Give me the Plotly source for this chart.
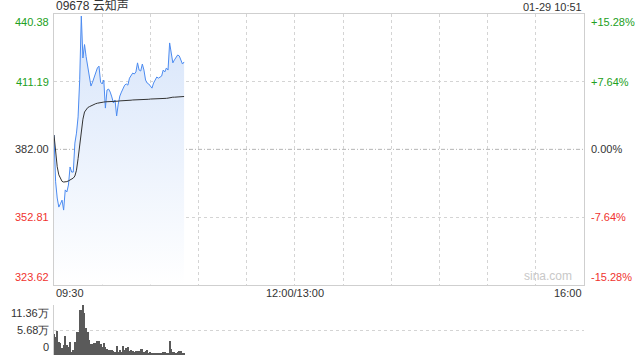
import plotly.graph_objects as go
from plotly.subplots import make_subplots

# ---------------- data ----------------
title_text = "09678 云知声"
stamp_text = "01-29 10:51"
prev_close = 382.00
price_ticks = [440.38, 411.19, 382.00, 352.81, 323.62]
pct_ticks = ["+15.28%", "+7.64%", "0.00%", "-7.64%", "-15.28%"]
x_tick_pos = [0, 150, 330]
x_tick_labels = ["09:30", "12:00/13:00", "16:00"]
vol_ticks = [11.36, 5.68, 0]
vol_tick_labels = ["11.36万", "5.68万", "0"]

minutes = list(range(82))  # minutes since 09:30
price = [388.2, 368.0, 361.0, 357.1, 358.5, 360.1, 355.8, 364.5, 363.6, 366.6,
         374.4, 372.2, 372.2, 384.7, 389.0, 396.0, 412.0, 439.5, 421.4, 427.2,
         422.0, 417.9, 414.0, 409.3, 411.0, 413.2, 415.4, 417.1, 417.9, 411.0,
         410.2, 411.9, 399.8, 407.6, 408.0, 406.7, 404.6, 402.0, 403.3, 396.4,
         401.5, 405.0, 406.7, 408.4, 409.7, 410.2, 409.7, 412.7, 414.0, 414.9,
         414.5, 415.4, 419.3, 416.2, 415.8, 418.8, 416.2, 411.9, 410.6, 410.2,
         409.3, 408.4, 410.6, 411.9, 413.2, 412.7, 413.2, 413.6, 416.2, 415.4,
         417.1, 416.2, 427.9, 423.6, 419.3, 420.6, 421.9, 422.7, 422.3, 420.6,
         418.8, 419.7]
avg_price = [388.2, 380.0, 374.5, 371.0, 369.2, 368.2, 367.9, 367.9, 368.1, 368.4,
             368.8, 369.2, 369.6, 370.5, 373.0, 378.0, 384.0, 390.3, 395.0, 398.1,
             399.3, 400.0, 400.4, 400.8, 401.1, 401.4, 401.7, 401.9, 402.1, 402.2,
             402.3, 402.4, 402.5, 402.5, 402.6, 402.6, 402.7, 402.7, 402.7, 402.8,
             402.8, 402.9, 402.9, 403.0, 403.0, 403.1, 403.1, 403.2, 403.2, 403.3,
             403.3, 403.4, 403.4, 403.5, 403.5, 403.5, 403.6, 403.6, 403.6, 403.6,
             403.7, 403.7, 403.7, 403.7, 403.8, 403.8, 403.8, 403.9, 403.9, 404.0,
             404.0, 404.1, 404.3, 404.4, 404.5, 404.5, 404.6, 404.6, 404.7, 404.7,
             404.7, 404.8]
volume = [4.77, 4.16, 5.45, 3.03, 2.80, 1.67, 2.27, 4.31, 2.27, 1.89,
          3.03, 0.76, 1.14, 3.03, 5.30, 5.30, 10.22, 10.22, 11.36, 9.46,
          6.06, 5.15, 3.41, 2.50, 2.50, 2.80, 2.80, 3.18, 3.18, 2.50,
          1.89, 2.80, 1.89, 1.44, 1.14, 1.14, 1.14, 0.91, 0.76, 2.04,
          0.76, 1.14, 0.68, 2.04, 1.14, 1.67, 1.74, 0.91, 1.14, 0.98,
          0.76, 0.98, 0.91, 0.91, 1.29, 1.29, 0.68, 0.91, 1.14, 0.53,
          0.61, 0.45, 0.45, 0.53, 0.45, 0.38, 0.38, 0.45, 0.76, 0.76,
          0.38, 0.38, 3.26, 1.29, 0.76, 0.61, 0.53, 0.68, 0.83, 0.91,
          0.38, 0.30]

# ---------------- styles ----------------
GREEN = "#22a022"
RED = "#f0332f"
DARK = "#333333"
GRID = "#d4d4d4"
BORDER = "#cfcfcf"
FONT = "Liberation Sans, Arial, sans-serif"

y_lo, y_hi = price_ticks[-1], price_ticks[0]

fig = make_subplots(rows=2, cols=1, shared_xaxes=False,
                    row_heights=[0.80, 0.20], vertical_spacing=0.0)

# baseline for the fill
fig.add_trace(go.Scatter(x=minutes, y=[y_lo] * len(minutes), mode="lines",
                         line=dict(width=0, color="rgba(0,0,0,0)"),
                         hoverinfo="skip", showlegend=False), row=1, col=1)
fig.add_trace(go.Scatter(x=minutes, y=price, mode="lines",
                         line=dict(color="#4c8bf0", width=1),
                         fill="tonexty",
                         fillgradient=dict(type="vertical",
                                           colorscale=[[0, "rgba(255,255,255,1)"],
                                                       [1, "rgba(214,228,250,1)"]],
                                           start=y_lo, stop=y_hi),
                         showlegend=False), row=1, col=1)
fig.add_trace(go.Scatter(x=minutes, y=avg_price, mode="lines",
                         line=dict(color="#333333", width=1),
                         showlegend=False), row=1, col=1)

fig.add_trace(go.Bar(x=minutes, y=volume, width=0.55,
                     marker=dict(color="#5a5a5a", line=dict(width=0)),
                     showlegend=False), row=2, col=1)

fig.update_layout(
    width=640, height=360,
    margin=dict(l=54, r=56, t=14, b=5),
    paper_bgcolor="white", plot_bgcolor="white",
    font=dict(family=FONT, size=11, color=DARK),
    bargap=0,
)

main_top = 1.0
main_bot = (355 - 284.7) / 341
vol_top = 50 / 341
fig.update_layout(
    xaxis=dict(domain=[0, 1], range=[0, 330], tickvals=list(range(0, 331, 30)),
               showticklabels=False, ticks="", showgrid=True, gridcolor=GRID,
               griddash="dot", gridwidth=1, showline=True, linecolor=BORDER,
               mirror=True, zeroline=False, anchor="y"),
    yaxis=dict(domain=[main_bot, main_top], range=[y_lo, y_hi],
               tickvals=[price_ticks[1], price_ticks[3]], showticklabels=False,
               ticks="", showgrid=True, gridcolor=GRID, griddash="dot",
               showline=True, linecolor=BORDER, mirror=True, zeroline=False,
               anchor="x"),
    xaxis2=dict(domain=[0, 1], range=[0, 330], showticklabels=False, ticks="",
                showgrid=False, showline=False, zeroline=False, anchor="y2"),
    yaxis2=dict(domain=[0, vol_top], range=[0, vol_ticks[0]],
                tickvals=[vol_ticks[0], vol_ticks[1]], showticklabels=False,
                ticks="", showgrid=True, gridcolor=GRID, griddash="dot",
                showline=True, linecolor=BORDER, zeroline=False, anchor="x2"),
)

# previous-close reference line
fig.add_shape(type="line", xref="x", yref="y", x0=0, x1=330,
              y0=prev_close, y1=prev_close, layer="below",
              line=dict(color="#b4b4b4", width=1, dash="4px,2px,1px,2px"))

ann = []
colors = [GREEN, GREEN, DARK, RED, RED]
anchors = ["top", "middle", "middle", "middle", "bottom"]
for v, p, c, a in zip(price_ticks, pct_ticks, colors, anchors):
    ann.append(dict(x=0, xref="paper", y=v, yref="y", text=f"{v:.2f}",
                    xanchor="right", yanchor=a, xshift=-3, showarrow=False,
                    font=dict(color=c, size=11)))
    ann.append(dict(x=1, xref="paper", y=v, yref="y", text=p,
                    xanchor="left", yanchor=a, xshift=5, showarrow=False,
                    font=dict(color=c, size=11)))

xl_anchor = ["left", "center", "right"]
for pos, lab, a in zip(x_tick_pos, x_tick_labels, xl_anchor):
    ann.append(dict(x=pos, xref="x", y=(355 - 293) / 341, yref="paper",
                    text=lab, xanchor=a, yanchor="middle", showarrow=False,
                    font=dict(color=DARK, size=11)))

v_anchor = ["top", "middle", "bottom"]
for v, lab, a in zip(vol_ticks, vol_tick_labels, v_anchor):
    ann.append(dict(x=0, xref="paper", y=v, yref="y2", text=lab,
                    xanchor="right", yanchor=a, xshift=-3, showarrow=False,
                    font=dict(color=DARK, size=11)))

ann.append(dict(x=0, xref="paper", y=1, yref="paper", text=title_text,
                xanchor="left", yanchor="bottom", yshift=-1, showarrow=False,
                font=dict(color=DARK, size=12,
                          family="Liberation Sans, Noto Sans CJK SC, sans-serif")))
ann.append(dict(x=1, xref="paper", y=1, yref="paper", text=stamp_text,
                xanchor="right", yanchor="bottom", yshift=-1, showarrow=False,
                font=dict(color=DARK, size=11)))
ann.append(dict(x=1, xref="paper", y=y_lo, yref="y", text="sina.com",
                xanchor="right", yanchor="bottom", xshift=-10, showarrow=False,
                font=dict(color="#c8c8c8", size=12)))

fig.update_layout(annotations=ann)

fig.write_html("out.html")
